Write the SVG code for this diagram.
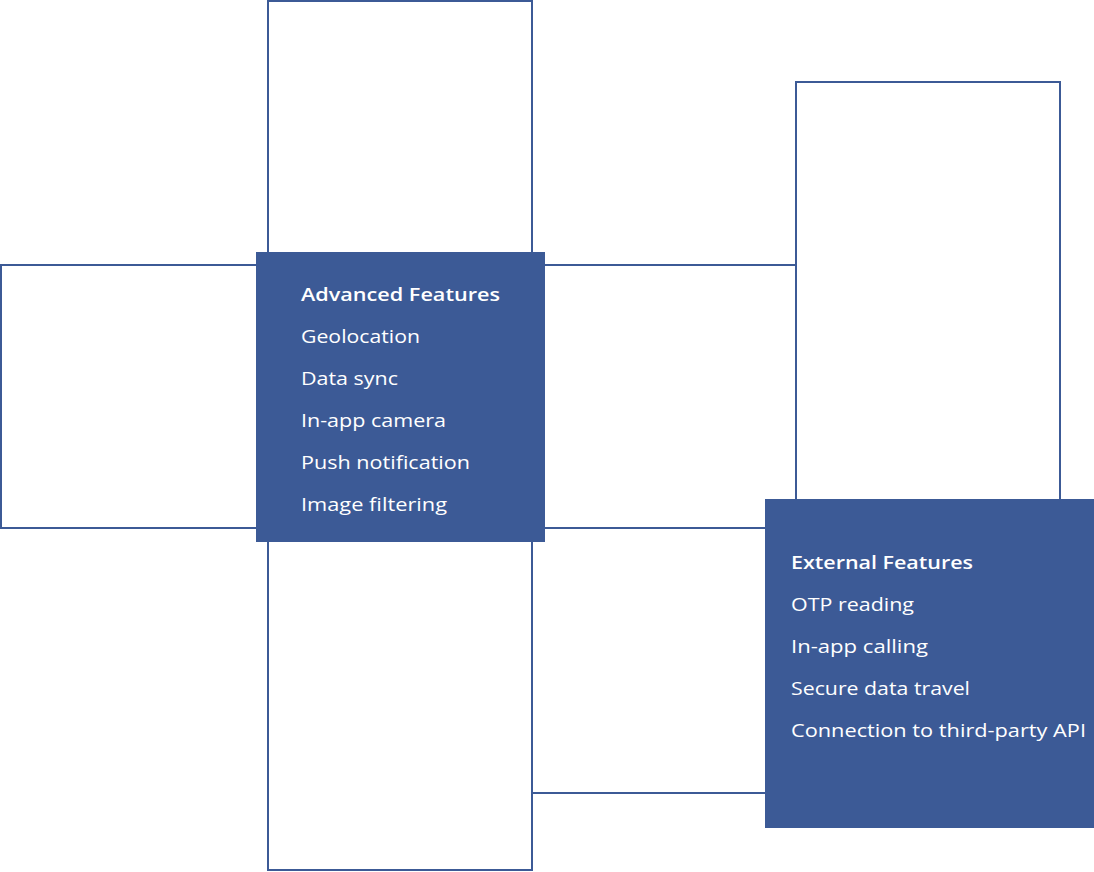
<svg xmlns="http://www.w3.org/2000/svg" width="1094" height="872" viewBox="0 0 1094 872">
<style>
.o{fill:none;stroke:#3C5A96;stroke-width:2}
.c{fill:none;stroke:#3C5A96;stroke-width:2}
.b{fill:#3C5A96}
text{font-family:"Open Sans","Liberation Sans",sans-serif;font-size:18px;fill:#ffffff;font-weight:500}
.h{font-weight:600}
</style>
<rect width="1094" height="872" fill="#ffffff"/>
<g id="frame-top"><rect class="o" x="268" y="1" width="264" height="260"/></g>
<g id="frame-left"><rect class="o" x="1" y="265" width="264" height="263"/></g>
<g id="frame-bottom"><rect class="o" x="268" y="530" width="264" height="340"/></g>
<g id="frame-right"><rect class="o" x="796" y="82" width="264" height="430"/></g>
<g id="connectors">
<line class="c" x1="532" y1="265" x2="796" y2="265"/>
<line class="c" x1="532" y1="528" x2="780" y2="528"/>
<line class="c" x1="532" y1="793" x2="780" y2="793"/>
</g>
<g id="advanced-features">
<rect class="b" x="256" y="252" width="289" height="290"/>
<text class="h" x="301" y="301" textLength="199" lengthAdjust="spacingAndGlyphs">Advanced Features</text>
<text x="301" y="343" textLength="119" lengthAdjust="spacingAndGlyphs">Geolocation</text>
<text x="301" y="385" textLength="97" lengthAdjust="spacingAndGlyphs">Data sync</text>
<text x="301" y="427" textLength="145" lengthAdjust="spacingAndGlyphs">In-app camera</text>
<text x="301" y="469" textLength="169" lengthAdjust="spacingAndGlyphs">Push notification</text>
<text x="301" y="511" textLength="146" lengthAdjust="spacingAndGlyphs">Image filtering</text>
</g>
<g id="external-features">
<rect class="b" x="765" y="499" width="329" height="329"/>
<text class="h" x="791" y="569" textLength="182" lengthAdjust="spacingAndGlyphs">External Features</text>
<text x="791" y="611" textLength="123" lengthAdjust="spacingAndGlyphs">OTP reading</text>
<text x="791" y="653" textLength="137" lengthAdjust="spacingAndGlyphs">In-app calling</text>
<text x="791" y="695" textLength="179" lengthAdjust="spacingAndGlyphs">Secure data travel</text>
<text x="791" y="737" textLength="295" lengthAdjust="spacingAndGlyphs">Connection to third-party API</text>
</g>
</svg>
